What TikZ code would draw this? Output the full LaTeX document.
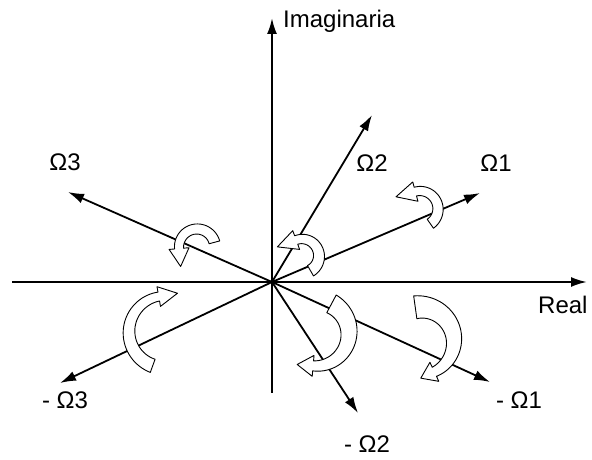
\documentclass[tikz,border=0pt]{standalone}
\usepackage{fontspec}
\setmainfont{Liberation Sans}
\usetikzlibrary{arrows.meta}

% curved block arrow: cx, cy, radius, start, end, tail half-width, head half-width, head length
\newcommand{\bendarrow}[8]{%
  \pgfmathsetmacro{\bs}{sign((#5)-(#4))}%
  \pgfmathsetmacro{\bh}{#7+5.5}%
  \draw[bendbox]
    plot[domain=#4:#5, samples=40, variable=\t]
      ({#1+(#3+#6+(#7-#6)*(\t-(#4))/((#5)-(#4)))*cos(\t)},
       {#2+(#3+#6+(#7-#6)*(\t-(#4))/((#5)-(#4)))*sin(\t)})
    -- ({#1+(#3+\bh)*cos(#5)},{#2+(#3+\bh)*sin(#5)})
    -- ({#1+#3*cos(#5)+#8*cos((#5)+(\bs)*90)},{#2+#3*sin(#5)+#8*sin((#5)+(\bs)*90)})
    -- ({#1+(#3-\bh)*cos(#5)},{#2+(#3-\bh)*sin(#5)})
    -- plot[domain=#5:#4, samples=40, variable=\t]
      ({#1+(#3-#6-(#7-#6)*(\t-(#4))/((#5)-(#4)))*cos(\t)},
       {#2+(#3-#6-(#7-#6)*(\t-(#4))/((#5)-(#4)))*sin(\t)})
    -- cycle;
}

\begin{document}
\begin{tikzpicture}[
    x=1pt, y=1pt,
    font=\fontsize{24}{28}\selectfont,
    axis/.style={line width=2.2pt, -{Latex[length=16pt,width=10pt]}},
    vec/.style={line width=1.8pt, -{Latex[length=16pt,width=10pt]}},
    lbl/.style={inner sep=0pt, anchor=base},
    bendbox/.style={draw=black, line width=0.9pt, fill=white, line join=round}
  ]
  \useasboundingbox (0,0) rectangle (592,459);
  \coordinate (O)  at (272,177);
  \coordinate (rl) at (12,177);
  \coordinate (rr) at (587,177);
  \coordinate (ib) at (272,66);
  \coordinate (it) at (272,441);
  \coordinate (w1)  at (480,266);
  \coordinate (w2)  at (372,344);
  \coordinate (w3)  at (68,267);
  \coordinate (mw1) at (490,77);
  \coordinate (mw2) at (358,46);
  \coordinate (mw3) at (60,76);

  \draw[axis] (rl) -- (rr);
  \draw[axis] (O) -- (it);
  \draw[line width=1.2pt] (O) -- (ib);
  \draw[vec] (O) -- (w1);
  \draw[vec] (O) -- (w2);
  \draw[vec] (O) -- (w3);
  \draw[vec] (O) -- (mw1);
  \draw[vec] (O) -- (mw2);
  \draw[vec] (O) -- (mw3);

  \node[lbl, anchor=base west] (im) at (283,431) {Imaginaria};
  \node[lbl, anchor=base west] (re) at (538,146) {Real};
  \node[lbl] (l1)  at (496,288) {Ω1};
  \node[lbl] (l2)  at (372,288) {Ω2};
  \node[lbl] (l3)  at (65,289)  {Ω3};
  \node[lbl] (ml1) at (519,51)  {- Ω1};
  \node[lbl] (ml2) at (367,7)   {- Ω2};
  \node[lbl] (ml3) at (65,51)   {- Ω3};

  \bendarrow{420}{250}{18}{-55}{105}{5.5}{4.5}{20}
  \bendarrow{302}{203}{17}{-60}{110}{6}{4.5}{20}
  \bendarrow{197}{212}{18}{15}{185}{5.5}{4.5}{18}
  \bendarrow{165}{127}{36}{250}{100}{7}{4.5}{19}
  \bendarrow{316}{126}{33}{62}{-95}{10}{5}{16}
  \bendarrow{420}{118}{34}{98}{-65}{11.5}{5}{15}
\end{tikzpicture}
\end{document}
